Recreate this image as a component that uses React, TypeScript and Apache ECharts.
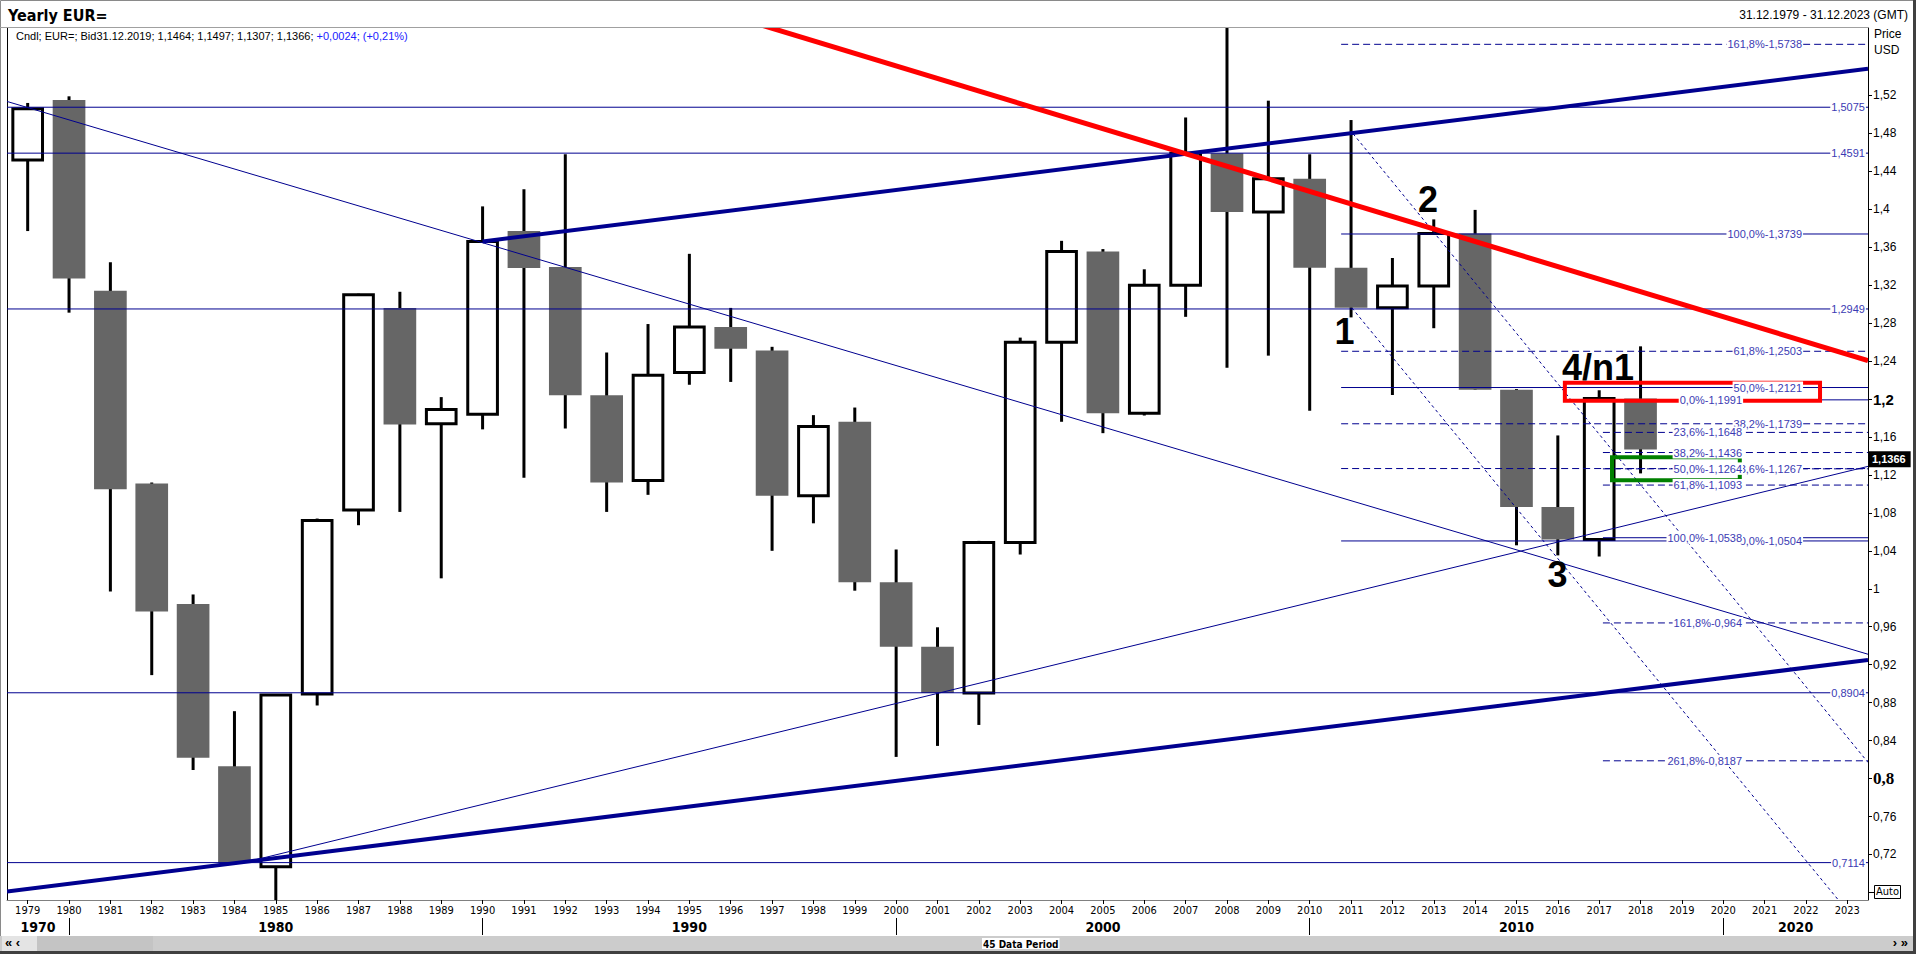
import React, { useEffect, useRef } from "react";
import * as echarts from "echarts";

// ---------- data ----------
const years = [
  "1979","1980","1981","1982","1983","1984","1985","1986","1987","1988",
  "1989","1990","1991","1992","1993","1994","1995","1996","1997","1998",
  "1999","2000","2001","2002","2003","2004","2005","2006","2007","2008",
  "2009","2010","2011","2012","2013","2014","2015","2016","2017","2018",
  "2019","2020","2021","2022","2023",
];

// yearly candles 1979..2018
const opens = [
  1.452, 1.515, 1.314, 1.111, 0.984, 0.813, 0.707, 0.889, 1.083, 1.296,
  1.174, 1.184, 1.377, 1.339, 1.204, 1.114, 1.228, 1.276, 1.251, 1.098,
  1.176, 1.007, 0.9388, 0.8901, 1.0487, 1.2597, 1.3554, 1.1849, 1.3199, 1.459,
  1.3972, 1.432, 1.3384, 1.2961, 1.3192, 1.3743, 1.2098, 1.0862, 1.052, 1.2005,
];
const closes = [
  1.506, 1.327, 1.105, 0.976, 0.822, 0.711, 0.888, 1.072, 1.310, 1.173,
  1.189, 1.366, 1.338, 1.204, 1.112, 1.225, 1.276, 1.253, 1.098, 1.171,
  1.007, 0.9388, 0.8901, 1.0487, 1.2597, 1.3554, 1.1849, 1.3199, 1.459, 1.3972,
  1.432, 1.3384, 1.2961, 1.3192, 1.3743, 1.2098, 1.0862, 1.052, 1.2005, 1.1467,
];
const highs = [
  1.512, 1.519, 1.344, 1.112, 0.994, 0.871, 0.889, 1.074, 1.311, 1.313,
  1.202, 1.403, 1.421, 1.458, 1.249, 1.279, 1.353, 1.296, 1.255, 1.183,
  1.191, 1.0414, 0.9594, 1.0505, 1.2647, 1.3667, 1.358, 1.3367, 1.4967, 1.6038,
  1.5144, 1.458, 1.494, 1.3486, 1.3893, 1.3993, 1.2105, 1.1616, 1.2092, 1.2555,
];
const lows = [
  1.377, 1.291, 0.997, 0.909, 0.809, 0.711, 0.672, 0.877, 1.067, 1.081,
  1.011, 1.168, 1.117, 1.169, 1.081, 1.099, 1.215, 1.218, 1.040, 1.069,
  0.998, 0.8228, 0.8344, 0.8565, 1.0361, 1.176, 1.164, 1.1826, 1.2866, 1.2329,
  1.2457, 1.1876, 1.286, 1.2042, 1.2746, 1.2098, 1.0458, 1.0352, 1.034, 1.1216,
];

const yTickValues = [
  0.72, 0.76, 0.8, 0.84, 0.88, 0.92, 0.96, 1, 1.04, 1.08, 1.12,
  1.16, 1.2, 1.24, 1.28, 1.32, 1.36, 1.4, 1.44, 1.48, 1.52,
];

// horizontal levels across the whole chart
const fullLevels = [1.5075, 1.4591, 1.2949, 0.8904, 0.7114];
const fullLevelLabels = ["1,5075", "1,4591", "1,2949", "0,8904", "0,7114"];

// Fibonacci set 1 (0% 1.0504 -> 100% 1.3739)
const fib1SolidValues = [1.3739, 1.2121, 1.0504];
const fib1SolidLabels = ["100,0%-1,3739", "50,0%-1,2121", "0,0%-1,0504"];
const fib1DashedValues = [1.5738, 1.2503, 1.1739, 1.1267];
const fib1DashedLabels = ["161,8%-1,5738", "61,8%-1,2503", "38,2%-1,1739", "23,6%-1,1267"];

// Fibonacci set 2 (0% 1.1991 -> 100% 1.0538)
const fib2SolidValues = [1.1991, 1.0538];
const fib2SolidLabels = ["0,0%-1,1991", "100,0%-1,0538"];
const fib2DashedValues = [1.1648, 1.1436, 1.1264, 1.1093, 0.964, 0.8187];
const fib2DashedLabels = [
  "23,6%-1,1648", "38,2%-1,1436", "50,0%-1,1264", "61,8%-1,1093", "161,8%-0,964", "261,8%-0,8187",
];

// drawn trend lines: [x0 index, value0, x1 index, value1]
const thickTrendLines = [
  [11, 1.366, 44.5, 1.548],
  [-0.5, 0.681, 44.5, 0.925],
];
const thinTrendLines = [
  [-0.5, 1.5136, 44.5, 0.931],
  [5.38, 0.713, 44.5, 1.129],
];
const dashedFanLines = [
  [32.05, 1.4795, 44.5, 0.817],
  [32.02, 1.296, 44.5, 0.634],
];
const redTrendLines = [[17.5, 1.5973, 44.5, 1.2404]];

const redBoxes = [[37.17, 1.2172, 43.34, 1.1982]];
const greenBoxes = [[38.31, 1.1385, 41.4, 1.1145]];

const annotTexts = ["1", "2", "3", "4/n1"];
const annotX = [31.84, 33.86, 36.99, 37.97];
const annotY = [1.271, 1.41, 1.0147, 1.2333];

const lastPrice = 1.1366;
const lastPriceLabel = "1,1366";

const decadeLabels = ["1970", "1980", "1990", "2000", "2010", "2020"];
const decadeLabelPos = [0.25, 6, 16, 26, 36, 42.75];
const decadeSeparatorPos = [1, 11, 21, 31, 41];

// ---------- layout / style ----------
const FONT = "'Liberation Sans', Arial, sans-serif";
const NARROW = "'Liberation Sans Narrow', 'DejaVu Sans Condensed', 'Liberation Sans', Arial, sans-serif";
const NAVY = "#00008f";
const LABEL_COLOR = "#3b3bb3";
const FIB1_START = 31.76;
const FIB2_START = 38.09;
const FIB1_LABEL_END = 42.93;
const FIB2_LABEL_END = 41.48;
const FULL_LABEL_END = 44.45;
const X_MIN = -0.5;
const X_MAX = 44.5;

const segSeries = (name: string, data: number[][], style: any, z: number) => ({
  type: "custom",
  name,
  xAxisIndex: 1,
  yAxisIndex: 0,
  clip: true,
  silent: true,
  z,
  data,
  renderItem: (_p: any, api: any) => {
    const a = api.coord([api.value(0), api.value(1)]);
    const b = api.coord([api.value(2), api.value(3)]);
    return {
      type: "line",
      shape: { x1: a[0], y1: a[1], x2: b[0], y2: b[1] },
      style: { fill: null, ...style },
    };
  },
});

const hSegs = (values: number[], x0: number, x1: number) => values.map((v) => [x0, v, x1, v]);

const labelSeries = (name: string, values: number[], labels: string[], xEnd: number, z: number) => ({
  type: "custom",
  name,
  xAxisIndex: 1,
  yAxisIndex: 0,
  clip: false,
  silent: true,
  z,
  data: values.map((v) => [xEnd, v]),
  renderItem: (p: any, api: any) => {
    const pt = api.coord([api.value(0), api.value(1)]);
    return {
      type: "text",
      x: pt[0],
      y: pt[1],
      style: {
        text: labels[p.dataIndex],
        fill: LABEL_COLOR,
        fontSize: 11,
        fontFamily: FONT,
        align: "right",
        verticalAlign: "middle",
        backgroundColor: "#fff",
        padding: [1, 1, 0, 1],
      },
    };
  },
});

const boxSeries = (name: string, data: number[][], color: string, z: number) => ({
  type: "custom",
  name,
  xAxisIndex: 1,
  yAxisIndex: 0,
  clip: true,
  silent: true,
  z,
  data,
  renderItem: (_p: any, api: any) => {
    const a = api.coord([api.value(0), api.value(1)]);
    const b = api.coord([api.value(2), api.value(3)]);
    return {
      type: "rect",
      shape: { x: a[0], y: a[1], width: b[0] - a[0], height: b[1] - a[1] },
      style: { fill: null, stroke: color, lineWidth: 4 },
    };
  },
});

function fmtNum(v: number) {
  return String(Number(v.toFixed(2))).replace(".", ",");
}

function buildOption() {
  const candleData = opens.map((o, i) => [i, o, closes[i], lows[i], highs[i]]);

  const quarterCats: string[] = [];
  for (let j = 0; j <= 180; j++) quarterCats.push(String(j));
  const decadeLabelMap: Record<number, string> = {};
  decadeLabelPos.forEach((p, k) => {
    decadeLabelMap[Math.round((p - X_MIN) * 4)] = decadeLabels[k];
  });
  const sepSet = new Set(decadeSeparatorPos.map((p) => Math.round((p - X_MIN) * 4)));

  return {
    animation: false,
    backgroundColor: "#ffffff",
    grid: { left: 7, right: 48, top: 28, bottom: 54, show: false },
    xAxis: [
      {
        type: "category",
        data: years,
        position: "bottom",
        boundaryGap: true,
        axisLine: { show: true, lineStyle: { color: "#808080", width: 1 } },
        axisTick: { show: true, alignWithLabel: true, length: 4, lineStyle: { color: "#000" } },
        axisLabel: { interval: 0, fontSize: 11, color: "#000", margin: 5, fontFamily: NARROW },
        splitLine: { show: false },
      },
      { type: "value", min: X_MIN, max: X_MAX, show: false },
      {
        type: "category",
        data: quarterCats,
        position: "bottom",
        offset: 18,
        boundaryGap: false,
        axisLine: { show: false },
        axisTick: {
          show: true,
          interval: (i: number) => sepSet.has(i),
          length: 17,
          lineStyle: { color: "#000" },
        },
        axisLabel: {
          interval: (i: number) => decadeLabelMap[i] !== undefined,
          formatter: (_v: string, i: number) => decadeLabelMap[i] || "",
          fontSize: 14,
          fontWeight: "bold",
          color: "#000",
          margin: 2,
          fontFamily: NARROW,
        },
        splitLine: { show: false },
      },
    ],
    yAxis: [
      {
        type: "value",
        position: "right",
        min: 0.672,
        max: 1.591,
        axisLine: { show: true, onZero: false, lineStyle: { color: "#000" } },
        axisTick: { show: true, length: 4, customValues: yTickValues, lineStyle: { color: "#000" } },
        axisLabel: {
          customValues: yTickValues,
          fontSize: 12,
          color: "#000",
          margin: 5,
          fontFamily: FONT,
          formatter: (v: number) => {
            const s = fmtNum(v);
            if (Math.abs(v - 1.2) < 1e-6) return "{b|" + s + "}";
            if (Math.abs(v - 0.8) < 1e-6) return "{s|" + s + "}";
            return s;
          },
          rich: {
            b: { fontSize: 15, fontWeight: "bold", fontFamily: FONT, color: "#000" },
            s: { fontSize: 17, fontWeight: "bold", fontFamily: "'Liberation Serif', serif", color: "#000" },
          },
        },
        splitLine: { show: false },
      },
    ],
    series: [
      {
        type: "custom",
        name: "candles",
        xAxisIndex: 1,
        yAxisIndex: 0,
        clip: true,
        silent: true,
        z: 2,
        data: candleData,
        renderItem: (_p: any, api: any) => {
          const i = api.value(0);
          const o = api.value(1);
          const c = api.value(2);
          const l = api.value(3);
          const h = api.value(4);
          const pH = api.coord([i, h]);
          const pL = api.coord([i, l]);
          const pO = api.coord([i, o]);
          const pC = api.coord([i, c]);
          const w = api.size([0.79, 0])[0];
          const top = Math.min(pO[1], pC[1]);
          const bot = Math.max(pO[1], pC[1]);
          const children: any[] = [
            {
              type: "line",
              shape: { x1: pH[0], y1: pH[1], x2: pL[0], y2: pL[1] },
              style: { stroke: "#000", lineWidth: 3 },
            },
          ];
          if (c >= o) {
            children.push({
              type: "rect",
              shape: { x: pO[0] - w / 2 + 1.5, y: top, width: w - 3, height: Math.max(bot - top, 1) },
              style: { fill: "#fff", stroke: "#000", lineWidth: 3 },
            });
          } else {
            children.push({
              type: "rect",
              shape: { x: pO[0] - w / 2, y: top, width: w, height: bot - top },
              style: { fill: "#666666", stroke: null },
            });
          }
          return { type: "group", children };
        },
      },
      segSeries("levels", hSegs(fullLevels, X_MIN, X_MAX), { stroke: NAVY, lineWidth: 1 }, 3),
      segSeries("fib1 solid", hSegs(fib1SolidValues, FIB1_START, X_MAX), { stroke: NAVY, lineWidth: 1 }, 3),
      segSeries("fib1 dashed", hSegs(fib1DashedValues, FIB1_START, X_MAX), { stroke: NAVY, lineWidth: 1, lineDash: [7, 4] }, 3),
      segSeries("fib2 solid", hSegs(fib2SolidValues, FIB2_START, X_MAX), { stroke: NAVY, lineWidth: 1 }, 3),
      segSeries("fib2 dashed", hSegs(fib2DashedValues, FIB2_START, X_MAX), { stroke: NAVY, lineWidth: 1, lineDash: [7, 4] }, 3),
      segSeries("thin trend", thinTrendLines, { stroke: NAVY, lineWidth: 1 }, 3),
      segSeries("fan", dashedFanLines, { stroke: NAVY, lineWidth: 1, lineDash: [3, 3] }, 3),
      segSeries("thick trend", thickTrendLines, { stroke: NAVY, lineWidth: 4 }, 3),
      segSeries("red trend", redTrendLines, { stroke: "#ff0000", lineWidth: 5 }, 3),
      boxSeries("red box", redBoxes, "#ff0000", 4),
      boxSeries("green box", greenBoxes, "#008000", 4),
      labelSeries("level labels", fullLevels, fullLevelLabels, FULL_LABEL_END, 5),
      labelSeries("fib1 solid labels", fib1SolidValues, fib1SolidLabels, FIB1_LABEL_END, 5),
      labelSeries("fib1 dashed labels", fib1DashedValues, fib1DashedLabels, FIB1_LABEL_END, 5),
      labelSeries("fib2 solid labels", fib2SolidValues, fib2SolidLabels, FIB2_LABEL_END, 6),
      labelSeries("fib2 dashed labels", fib2DashedValues, fib2DashedLabels, FIB2_LABEL_END, 6),
      {
        type: "custom",
        name: "annotations",
        xAxisIndex: 1,
        yAxisIndex: 0,
        clip: false,
        silent: true,
        z: 7,
        data: annotX.map((x, i) => [x, annotY[i]]),
        renderItem: (p: any, api: any) => {
          const pt = api.coord([api.value(0), api.value(1)]);
          return {
            type: "text",
            x: pt[0],
            y: pt[1],
            style: {
              text: annotTexts[p.dataIndex],
              fill: "#000",
              fontSize: 36,
              fontWeight: "bold",
              fontFamily: FONT,
              align: "center",
              verticalAlign: "middle",
            },
          };
        },
      },
      {
        type: "custom",
        name: "last price",
        xAxisIndex: 1,
        yAxisIndex: 0,
        clip: false,
        silent: true,
        z: 8,
        data: [[X_MAX, lastPrice]],
        renderItem: (_p: any, api: any) => {
          const pt = api.coord([api.value(0), api.value(1)]);
          return {
            type: "text",
            x: pt[0] + 1,
            y: pt[1],
            style: {
              text: lastPriceLabel,
              fill: "#fff",
              fontSize: 11,
              fontWeight: "bold",
              fontFamily: FONT,
              align: "left",
              verticalAlign: "middle",
              backgroundColor: "#000",
              padding: [3, 5, 2, 3],
            },
          };
        },
      },
    ],
    graphic: [
      // frame
      { type: "rect", shape: { x: 0.5, y: 0.5, width: 1914, height: 952 }, style: { fill: null, stroke: "#8a8a8a", lineWidth: 1 }, z: 0 },
      { type: "line", shape: { x1: 0, y1: 27.5, x2: 1868, y2: 27.5 }, style: { stroke: "#a0a0a0", lineWidth: 1 } },
      { type: "line", shape: { x1: 7.5, y1: 28, x2: 7.5, y2: 900 }, style: { stroke: "#000", lineWidth: 1 } },
      { type: "line", shape: { x1: 0, y1: 952.5, x2: 1916, y2: 952.5 }, style: { stroke: "#404040", lineWidth: 3 } },
      { type: "line", shape: { x1: 1914.5, y1: 0, x2: 1914.5, y2: 954 }, style: { stroke: "#404040", lineWidth: 3 } },
      // header
      { type: "text", left: 8, top: 7, style: { text: "Yearly EUR=", fontSize: 16, fontWeight: "bold", fontFamily: NARROW, fill: "#000" } },
      { type: "text", right: 8, top: 9, style: { text: "31.12.1979 - 31.12.2023 (GMT)", fontSize: 12, fontFamily: FONT, fill: "#000" } },
      {
        type: "text",
        left: 16,
        top: 30,
        style: {
          text: "{k|Cndl; EUR=; Bid31.12.2019; 1,1464; 1,1497; 1,1307; 1,1366; }{b|+0,0024; (+0,21%)}",
          rich: {
            k: { fill: "#000", fontSize: 11, fontFamily: FONT },
            b: { fill: "#2020ff", fontSize: 11, fontFamily: FONT },
          },
        },
      },
      { type: "text", left: 1874, top: 28, style: { text: "Price", fontSize: 12, fontFamily: FONT, fill: "#000" } },
      { type: "text", left: 1874, top: 44, style: { text: "USD", fontSize: 12, fontFamily: FONT, fill: "#000" } },
      // Auto box
      { type: "line", shape: { x1: 1868, y1: 892.5, x2: 1874, y2: 892.5 }, style: { stroke: "#000", lineWidth: 1 } },
      { type: "rect", shape: { x: 1874.5, y: 885.5, width: 26, height: 13 }, style: { fill: "#fff", stroke: "#000", lineWidth: 1 } },
      { type: "text", left: 1876, top: 886, style: { text: "Auto", fontSize: 11, fontFamily: NARROW, fill: "#000" } },
      // scrollbar
      { type: "rect", shape: { x: 0, y: 936, width: 1913, height: 15 }, style: { fill: "#cccccc" } },
      { type: "rect", shape: { x: 2, y: 936, width: 35, height: 15 }, style: { fill: "#e4e4e4" } },
      { type: "rect", shape: { x: 37, y: 936, width: 116, height: 15 }, style: { fill: "#c4c4c4" } },
      { type: "text", left: 5, top: 936, style: { text: "« ‹", fontSize: 13, fontWeight: "bold", fontFamily: FONT, fill: "#000" } },
      { type: "text", right: 8, top: 936, style: { text: "› »", fontSize: 13, fontWeight: "bold", fontFamily: FONT, fill: "#000" } },
      {
        type: "text",
        left: 982,
        top: 938,
        style: {
          text: "45 Data Period",
          fontSize: 10,
          fontWeight: "bold",
          fontFamily: NARROW,
          fill: "#000",
          backgroundColor: "#ffffff",
          padding: [1, 1, 0, 1],
        },
      },
    ],
  };
}

export default function App() {
  const ref = useRef<HTMLDivElement>(null);
  useEffect(() => {
    if (!ref.current) return;
    const chart = echarts.init(ref.current, null, { renderer: "svg" });
    chart.setOption(buildOption() as any);
    return () => {
      chart.dispose();
    };
  }, []);
  return (
    <div
      ref={ref}
      style={{ position: "absolute", left: 0, top: 0, width: "1916px", height: "954px", background: "#fff" }}
    />
  );
}
